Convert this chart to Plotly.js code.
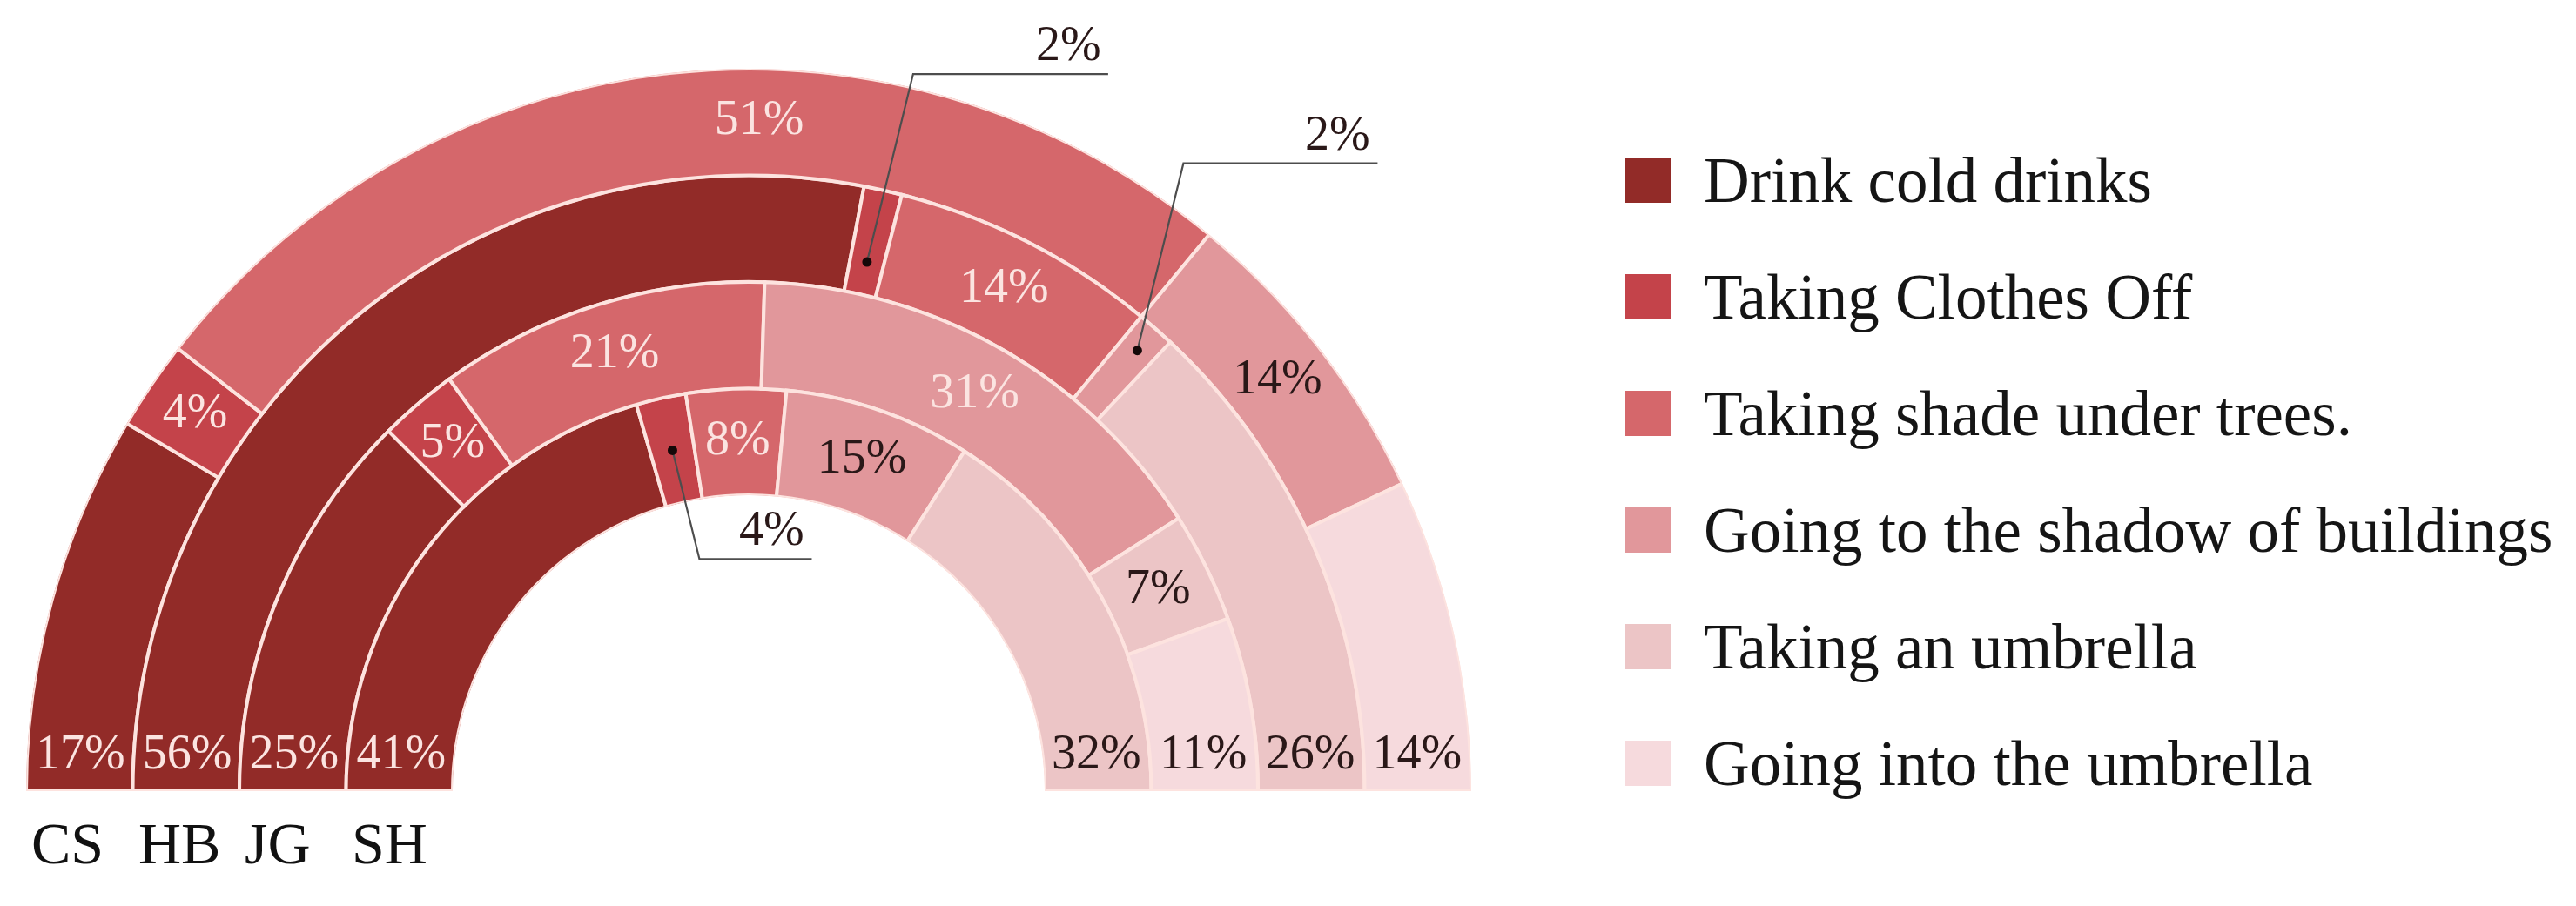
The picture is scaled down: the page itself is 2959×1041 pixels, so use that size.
<!DOCTYPE html>
<html>
<head>
<meta charset="utf-8">
<script src="https://cdn.plot.ly/plotly-3.0.1.min.js"></script>
<style>
  html, body { margin: 0; padding: 0; background: #ffffff; }
  #chart { width: 2959px; height: 1041px; }
</style>
</head>
<body>
<div id="chart"></div>
<script>
// rings, outermost first
var rings = ['CS', 'HB', 'JG', 'SH'];
var categories = ['Drink cold drinks', 'Taking Clothes Off', 'Taking shade under trees.',
    'Going to the shadow of buildings', 'Taking an umbrella', 'Going into the umbrella'];

// share of answers per city (%), same order as rings
var drinkCold    = [17, 56, 25, 41];
var clothesOff   = [4, 2, 5, 4];
var shadeTrees   = [51, 14, 21, 8];
var shadowBuild  = [14, 2, 31, 15];
var takeUmbrella = [0, 26, 7, 32];
var intoUmbrella = [14, 0, 11, 0];
var series = [drinkCold, clothesOff, shadeTrees, shadowBuild, takeUmbrella, intoUmbrella];

var colors = ['#922b28', '#c4434a', '#d5676b', '#e1979b', '#ecc5c6', '#f6dadd'];
var lightText = '#fbe4e1';
var darkText = '#2a1818';
var FONT = 'Liberation Serif, Times New Roman, serif';

// page geometry (px)
var W = 2959, H = 1041;
var CX = 860, CY = 909, R_OUT = 830, R_IN = 340;
var ringW = (R_OUT - R_IN) / rings.length;
var LIFT = 40;   // end labels sit this far above the baseline

// labels drawn outside with a leader line
var leaders = [
    {ring: 1, cat: 1, rf: 0.31, dx: 53, dy: -216, len: 224},
    {ring: 1, cat: 3, rf: 0.735, dx: 53, dy: -215, len: 223},
    {ring: 3, cat: 1, rf: 0.5, dx: 31, dy: 125, len: 129}
];
// small hand nudges of label angle (in % units)
var nudge = {'0-2': 4};
// labels that stay light on a light slice
var forceLight = {'2-3': true};

function baseOf(i) { return rings.length - 1 - i; }
function startOf(c, i) {
    var s = 0;
    for (var k = 0; k < c; k++) s += series[k][i];
    return s;
}
function toPx(rUnits, thetaDeg) {
    var rpx = R_IN + ringW * rUnits;
    var phi = (180 - thetaDeg) * Math.PI / 180;
    return [CX + rpx * Math.cos(phi), CY - rpx * Math.sin(phi)];
}
function isLeader(i, c) {
    for (var k = 0; k < leaders.length; k++)
        if (leaders[k].ring == i && leaders[k].cat == c) return true;
    return false;
}

var traces = [];

// one barpolar trace per answer
for (var c = 0; c < series.length; c++) {
    var r = [], theta = [], width = [], base = [];
    for (var i = 0; i < rings.length; i++) {
        var v = series[c][i];
        if (v <= 0) continue;
        var s = startOf(c, i);
        theta.push((s + v / 2) * 1.8);
        width.push(v * 1.8);
        r.push(1);
        base.push(baseOf(i));
    }
    traces.push({
        type: 'barpolar',
        name: categories[c],
        r: r, theta: theta, width: width, base: base,
        marker: {color: colors[c], line: {color: '#fde3df', width: 4}},
        showlegend: false,
        hoverinfo: 'skip'
    });
}

// in-ring labels
var lr = [], lt = [], ltext = [], lcol = [];
for (var i = 0; i < rings.length; i++) {
    var nz = [];
    for (var c = 0; c < series.length; c++) if (series[c][i] > 0) nz.push(c);
    var first = nz[0], last = nz[nz.length - 1];
    for (var c = 0; c < series.length; c++) {
        var v = series[c][i];
        if (v <= 0 || isLeader(i, c)) continue;
        var rU = baseOf(i) + 0.5;
        var rpx = R_IN + ringW * rU;
        var th;
        if (c == first) th = Math.asin(LIFT / rpx) * 180 / Math.PI;
        else if (c == last) th = 180 - Math.asin(LIFT / rpx) * 180 / Math.PI;
        else th = (startOf(c, i) + v / 2 + (nudge[i + '-' + c] || 0)) * 1.8;
        lr.push(rU);
        lt.push(th);
        ltext.push(v + '%');
        lcol.push((c < 3 || forceLight[i + '-' + c]) ? lightText : darkText);
    }
}
traces.push({
    type: 'scatterpolar',
    mode: 'text',
    r: lr, theta: lt, text: ltext,
    textposition: 'middle center',
    textfont: {family: FONT, size: 56, color: lcol},
    showlegend: false,
    hoverinfo: 'skip'
});

// legend swatches on the pixel overlay
var legX = 1893, legY0 = 207, legStep = 134;
var legYs = [];
for (var k = 0; k < categories.length; k++) legYs.push(legY0 + legStep * k);
traces.push({
    type: 'scatter',
    mode: 'markers',
    x: categories.map(function () { return legX; }),
    y: legYs,
    marker: {symbol: 'square', size: 52, color: colors, line: {width: 0}},
    showlegend: false,
    hoverinfo: 'skip',
    xaxis: 'x', yaxis: 'y'
});

var shapes = [];
var annotations = [];

// leader lines for the small slices
leaders.forEach(function (L) {
    var v = series[L.cat][L.ring];
    var th = (startOf(L.cat, L.ring) + v / 2) * 1.8;
    var p = toPx(baseOf(L.ring) + L.rf, th);
    var ex = p[0] + L.dx, ey = p[1] + L.dy;
    var fx = ex + L.len;
    shapes.push({
        type: 'path', xref: 'x', yref: 'y', layer: 'above',
        path: 'M' + p[0] + ',' + p[1] + ' L' + ex + ',' + ey + ' L' + fx + ',' + ey,
        line: {color: '#4d4d4d', width: 2.2}
    });
    shapes.push({
        type: 'circle', xref: 'x', yref: 'y', layer: 'above',
        x0: p[0] - 5.5, x1: p[0] + 5.5, y0: p[1] - 5.5, y1: p[1] + 5.5,
        fillcolor: '#140808', line: {width: 0}
    });
    annotations.push({
        xref: 'x', yref: 'y', x: fx - 6, y: ey - 2,
        xanchor: 'right', yanchor: 'bottom', showarrow: false,
        text: v + '%', font: {family: FONT, size: 56, color: darkText}
    });
});

// ring names under the left ends
rings.forEach(function (name, i) {
    var rpx = R_IN + ringW * (baseOf(i) + 1);
    annotations.push({
        xref: 'x', yref: 'y', x: CX - rpx + 4, y: 969,
        xanchor: 'left', yanchor: 'middle', showarrow: false,
        text: name, font: {family: FONT, size: 68, color: '#111111'}
    });
});

// legend text
categories.forEach(function (name, k) {
    annotations.push({
        xref: 'x', yref: 'y', x: 1955, y: legYs[k],
        xanchor: 'left', yanchor: 'middle', showarrow: false,
        text: name, font: {family: FONT, size: 73, color: '#151515'}
    });
});

var layout = {
    width: W, height: H,
    margin: {l: 0, r: 0, t: 0, b: 0, pad: 0},
    paper_bgcolor: '#ffffff',
    plot_bgcolor: 'rgba(0,0,0,0)',
    showlegend: false,
    hovermode: false,
    polar: {
        domain: {x: [(CX - R_OUT) / W, (CX + R_OUT) / W], y: [(H - CY) / H, (H - CY + R_OUT) / H]},
        sector: [0, 180],
        hole: R_IN / R_OUT,
        bgcolor: 'rgba(0,0,0,0)',
        radialaxis: {range: [0, rings.length], visible: false, showgrid: false},
        angularaxis: {rotation: 180, direction: 'clockwise', visible: false, showgrid: false}
    },
    xaxis: {domain: [0, 1], range: [0, W], visible: false, fixedrange: true},
    yaxis: {domain: [0, 1], range: [H, 0], visible: false, fixedrange: true},
    shapes: shapes,
    annotations: annotations
};

Plotly.newPlot('chart', traces, layout, {displayModeBar: false, staticPlot: true});
</script>
</body>
</html>
